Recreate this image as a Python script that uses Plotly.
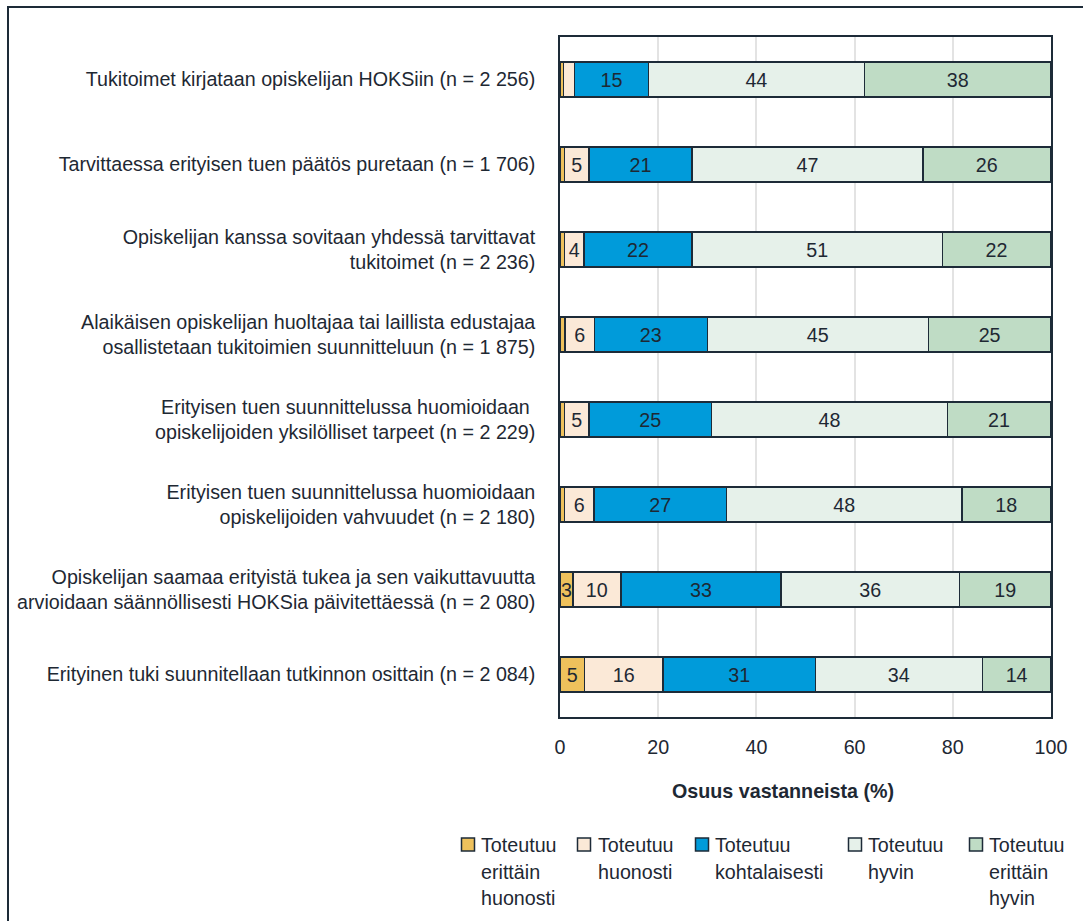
import plotly.graph_objects as go

categories = [
    "Tukitoimet kirjataan opiskelijan HOKSiin (n = 2 256)",
    "Tarvittaessa erityisen tuen päätös puretaan (n = 1 706)",
    "Opiskelijan kanssa sovitaan yhdessä tarvittavat<br>tukitoimet (n = 2 236)",
    "Alaikäisen opiskelijan huoltajaa tai laillista edustajaa<br>osallistetaan tukitoimien suunnitteluun (n = 1 875)",
    "Erityisen tuen suunnittelussa huomioidaan <br>opiskelijoiden yksilölliset tarpeet (n = 2 229)",
    "Erityisen tuen suunnittelussa huomioidaan<br>opiskelijoiden vahvuudet (n = 2 180)",
    "Opiskelijan saamaa erityistä tukea ja sen vaikuttavuutta<br>arvioidaan säännöllisesti HOKSia päivitettäessä (n = 2 080)",
    "Erityinen tuki suunnitellaan tutkinnon osittain (n = 2 084)",
]

series_names = [
    "Toteutuu erittäin huonosti",
    "Toteutuu huonosti",
    "Toteutuu kohtalaisesti",
    "Toteutuu hyvin",
    "Toteutuu erittäin hyvin",
]
legend_lines = [
    ["Toteutuu", "erittäin", "huonosti"],
    ["Toteutuu", "huonosti"],
    ["Toteutuu", "kohtalaisesti"],
    ["Toteutuu", "hyvin"],
    ["Toteutuu", "erittäin", "hyvin"],
]

erittain_huonosti = [0.7, 0.9, 0.9, 1.0, 0.9, 0.9, 2.6, 5.0]
huonosti = [2.3, 5.0, 4.0, 6.0, 5.0, 6.0, 9.8, 16.0]
kohtalaisesti = [15.0, 21.0, 22.0, 23.0, 25.0, 27.0, 32.6, 31.0]
hyvin = [44.0, 47.0, 51.0, 45.0, 48.0, 48.0, 36.4, 34.0]
erittain_hyvin = [38.0, 26.0, 22.0, 25.0, 21.0, 18.0, 18.6, 14.0]
series_values = [erittain_huonosti, huonosti, kohtalaisesti, hyvin, erittain_hyvin]

x_ticks = [0, 20, 40, 60, 80, 100]
x_title = "Osuus vastanneista (%)"

colors = ["#EEC15C", "#FBE9D7", "#009BDA", "#E6F1EA", "#BFDCC5"]
outline = "#1D2B38"
text_color = "#1E2833"
FONT = "Liberation Sans, Arial, sans-serif"
FS = 19.7

W, H = 1083, 921
L, R, T, B = 560, 1051, 37, 717


def px_x(p):
    return (p - L) / (R - L)


def px_y(p):
    return (B - p) / (B - T)


fig = go.Figure()
for name, vals, col in zip(series_names, series_values, colors):
    labels = [f"{round(v):d}" if v >= 2.5 else "" for v in vals]
    fig.add_trace(go.Bar(
        y=categories, x=vals, name=name, orientation="h",
        marker=dict(color=col, line=dict(color=outline, width=1.5)),
        width=0.41,
        text=labels, textposition="inside", insidetextanchor="middle",
        textangle=0, constraintext="none",
        textfont=dict(family=FONT, size=FS, color=text_color),
        showlegend=False,
    ))

annotations = []
shapes = []

# axis title
annotations.append(dict(
    x=px_x(783), y=px_y(791), xref="paper", yref="paper",
    text="<b>" + x_title + "</b>", showarrow=False,
    font=dict(family=FONT, size=FS, color=text_color),
    xanchor="center", yanchor="middle",
))

# legend (manual)
sq_centers = [468, 584, 702, 855, 976]
txt_starts = [479, 596, 713, 866, 987]
line_ys = [845, 872, 898]
sq = 6.5
for col, lines, cx, tx in zip(colors, legend_lines, sq_centers, txt_starts):
    shapes.append(dict(
        type="rect", xref="paper", yref="paper",
        x0=px_x(cx - sq), x1=px_x(cx + sq),
        y0=px_y(844.5 + sq), y1=px_y(844.5 - sq),
        fillcolor=col, line=dict(color=outline, width=1.5),
    ))
    for ln, ly in zip(lines, line_ys):
        annotations.append(dict(
            x=px_x(tx), y=px_y(ly), xref="paper", yref="paper",
            text=ln, showarrow=False, xanchor="left", yanchor="middle",
            font=dict(family=FONT, size=FS, color=text_color),
        ))

# outer frame
shapes.append(dict(
    type="rect", xref="paper", yref="paper",
    x0=px_x(8), x1=px_x(1120), y0=px_y(960), y1=px_y(7),
    line=dict(color=outline, width=2), fillcolor="rgba(0,0,0,0)",
    layer="above",
))

fig.update_layout(
    barmode="stack",
    width=W, height=H,
    margin=dict(l=L, r=W - R, t=T, b=H - B, pad=0),
    paper_bgcolor="white", plot_bgcolor="white",
    font=dict(family=FONT, size=FS, color=text_color),
    uniformtext=dict(minsize=FS, mode="show"),
    annotations=annotations, shapes=shapes,
    xaxis=dict(
        range=[0, 100], tickvals=x_ticks, ticktext=[str(t) for t in x_ticks],
        showgrid=True, gridcolor="#E3E3E3", gridwidth=1.5,
        showline=True, linecolor=outline, linewidth=1.5, mirror=True,
        zeroline=False, ticks="", ticklabelstandoff=12,
        tickfont=dict(family=FONT, size=FS, color=text_color),
        fixedrange=True,
    ),
    yaxis=dict(
        categoryorder="array", categoryarray=categories,
        autorange="reversed",
        showline=True, linecolor=outline, linewidth=1.5, mirror=True,
        showgrid=False, ticks="", ticklabelstandoff=19,
        tickfont=dict(family=FONT, size=FS, color=text_color),
        fixedrange=True,
    ),
)

fig.write_html(
    "out.html",
    config={"displayModeBar": False},
    post_script="document.body.style.margin='0';document.body.style.overflow='hidden';",
)
